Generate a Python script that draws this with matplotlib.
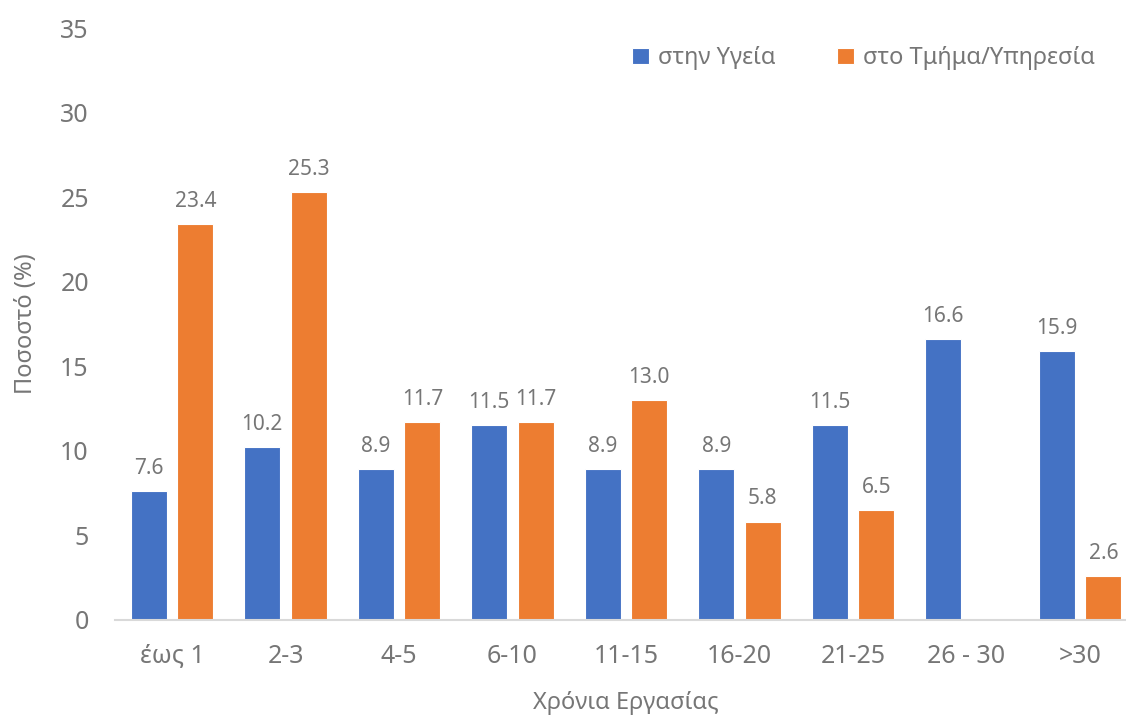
import numpy as np
import matplotlib
matplotlib.use("Agg")
import matplotlib.pyplot as plt

plt.rcParams['font.family'] = ['Noto Sans', 'DejaVu Sans']

categories = ["έως 1", "2-3", "4-5", "6-10", "11-15", "16-20", "21-25", "26 - 30", ">30"]
health = [7.6, 10.2, 8.9, 11.5, 8.9, 8.9, 11.5, 16.6, 15.9]
department = [23.4, 25.3, 11.7, 11.7, 13.0, 5.8, 6.5, None, 2.6]
series_names = ["στην Υγεία", "στο Τμήμα/Υπηρεσία"]

BLUE = "#4472C4"
ORANGE = "#ED7D31"
TEXT = "#767676"

fig = plt.figure(figsize=(11.26, 7.15), dpi=100)
ax = fig.add_axes([0.1024, 0.1329, 0.9072, 0.8279])

x = np.arange(len(categories))
w = 0.32
off = 0.205

dep_vals = [np.nan if v is None else v for v in department]
b1 = ax.bar(x - off, health, width=w, color=BLUE, edgecolor="white", linewidth=0.8,
            label=series_names[0])
b2 = ax.bar(x + off, dep_vals, width=w, color=ORANGE, edgecolor="white", linewidth=0.8,
            label=series_names[1])

for bars, vals in ((b1, health), (b2, department)):
    for rect, v in zip(bars, vals):
        if v is None:
            continue
        ax.annotate(f"{v:.1f}", (rect.get_x() + rect.get_width() / 2, v),
                    xytext=(0, 9), textcoords="offset points",
                    ha="center", va="bottom", fontsize=15, color=TEXT)

ax.set_xlim(-0.5, len(categories) - 0.5)
ax.set_ylim(0, 35)
ax.set_yticks(range(0, 36, 5))
ax.set_xticks(x)
ax.set_xticklabels(categories)

for s in ("top", "right", "left"):
    ax.spines[s].set_visible(False)
ax.spines["bottom"].set_color("#d9d9d9")
ax.spines["bottom"].set_linewidth(1.5)

ax.tick_params(axis="both", length=0, colors=TEXT, labelsize=18)
ax.tick_params(axis="y", pad=19)
ax.tick_params(axis="x", pad=17)

ax.set_ylabel("Ποσοστό (%)", fontsize=17, color=TEXT, labelpad=16)
ax.set_xlabel("Χρόνια Εργασίας", fontsize=17, color=TEXT, labelpad=16)

leg = ax.legend(loc="upper right", bbox_to_anchor=(0.98, 1.005), ncol=2, frameon=False,
                fontsize=17, handlelength=0.7, handleheight=0.7, handletextpad=0.4,
                columnspacing=2.6, labelcolor=TEXT)

fig.savefig("out.png", dpi=100)
